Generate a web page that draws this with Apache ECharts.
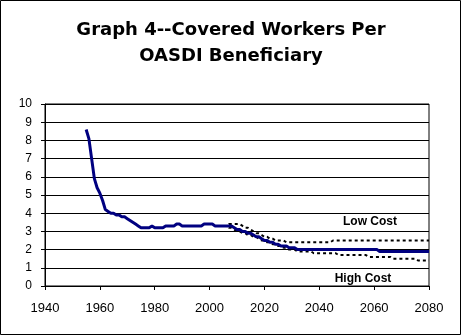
<!DOCTYPE html>
<html>
<head>
<meta charset="utf-8">
<script src="https://cdn.jsdelivr.net/npm/echarts@6/dist/echarts.min.js"></script>
<style>
html,body{margin:0;padding:0;background:#fff;}
#chart{width:462px;height:336px;}
</style>
</head>
<body>
<div id="chart"></div>
<script>
// ---- Data ----
var titleText = "Graph 4--Covered Workers Per\nOASDI Beneficiary";
var xTicks = [1940, 1960, 1980, 2000, 2020, 2040, 2060, 2080];
var yTicks = [0, 1, 2, 3, 4, 5, 6, 7, 8, 9, 10];

// Historical + intermediate projection
var mainYears = [1955,1956,1957,1958,1959,1960,1961,1962,1963,1964,1965,1966,1967,1968,1969,1970,
  1971,1972,1973,1974,1975,1976,1977,1978,1979,1980,1981,1982,1983,1984,1985,1986,1987,1988,1989,1990,
  1991,1992,1993,1994,1995,1996,1997,1998,1999,2000,2001,2002,2003,2004,2005,2006,2007,2008,2009,2010,
  2011,2012,2013,2014,2015,2016,2017,2018,2019,2020,2021,2022,2023,2024,2025,2026,2027,2028,2029,2030,
  2031,2032,2040,2050,2061,2062,2070,2080];
var mainValues = [8.6,8.1,7.0,5.9,5.4,5.1,4.7,4.2,4.1,4.0,4.0,3.9,3.9,3.8,3.8,3.7,
  3.6,3.5,3.4,3.3,3.2,3.2,3.2,3.2,3.3,3.2,3.2,3.2,3.2,3.3,3.3,3.3,3.3,3.4,3.4,3.3,
  3.3,3.3,3.3,3.3,3.3,3.3,3.3,3.4,3.4,3.4,3.4,3.3,3.3,3.3,3.3,3.3,3.3,3.3,3.2,3.1,
  3.1,3.0,3.0,2.9,2.9,2.8,2.7,2.7,2.6,2.5,2.5,2.4,2.4,2.3,2.3,2.2,2.2,2.2,2.1,2.1,
  2.1,2.0,2.0,2.0,2.0,1.9,1.9,1.9];

var lowYears = [2005,2006,2007,2008,2009,2010,2011,2012,2013,2014,2015,2016,2017,2018,2019,2020,
  2021,2022,2023,2024,2025,2026,2027,2028,2044,2045,2080];
var lowValues = [3.3,3.3,3.4,3.4,3.4,3.4,3.4,3.3,3.2,3.2,3.1,3.0,2.9,2.9,2.8,2.7,
  2.7,2.6,2.6,2.5,2.5,2.5,2.5,2.4,2.4,2.5,2.5];

var highYears = [2005,2006,2007,2008,2009,2010,2011,2012,2013,2014,2015,2016,2017,2018,2019,2020,
  2021,2022,2023,2024,2025,2026,2027,2028,2029,2031,2032,2037,2038,2046,2047,2057,2058,2066,2067,2075,2076,2080];
var highValues = [3.3,3.3,3.2,3.2,3.1,3.0,3.0,2.9,2.9,2.8,2.8,2.7,2.7,2.6,2.5,2.5,
  2.4,2.4,2.3,2.3,2.2,2.2,2.1,2.1,2.0,2.0,1.9,1.9,1.8,1.8,1.7,1.7,1.6,1.6,1.5,1.5,1.4,1.4];

var lowLabel = "Low Cost";
var highLabel = "High Cost";

function pairs(xs, ys){ var out=[]; for(var i=0;i<xs.length;i++){ out.push([xs[i], ys[i]]); } return out; }

var FONT = "Arial, 'Liberation Sans', sans-serif";
var TFONT = "'DejaVu Sans', Arial, sans-serif";
var chart = echarts.init(document.getElementById('chart'), null, {renderer:'canvas'});
var option = {
  backgroundColor: '#ffffff',
  animation: false,
  title: {
    text: titleText,
    left: 'center',
    top: 17,
    padding: 0,
    textStyle: {fontFamily: TFONT, fontSize: 18, fontWeight: 'bold', color: '#000', lineHeight: 26}
  },
  grid: {left: 45, right: 33, top: 104, height: 182, show: true, borderColor: '#000', borderWidth: 1, containLabel: false},
  xAxis: {
    type: 'value', min: 1940, max: 2080, interval: 20,
    axisLine: {show: true, lineStyle: {color: '#000', width: 1}},
    axisTick: {show: true, inside: false, length: 4, lineStyle: {color: '#000'}},
    splitLine: {show: false},
    axisLabel: {margin: 16, fontFamily: FONT, fontSize: 13, color: '#000',
      formatter: function(v){ return xTicks.indexOf(v) >= 0 ? String(v) : ''; }}
  },
  yAxis: {
    type: 'value', min: 0, max: 10, interval: 1,
    axisLine: {show: true, lineStyle: {color: '#000', width: 1}},
    axisTick: {show: true, inside: false, length: 4, lineStyle: {color: '#000'}},
    splitLine: {show: true, lineStyle: {color: '#000', width: 1}},
    axisLabel: {margin: 13, fontFamily: FONT, fontSize: 12, color: '#000',
      formatter: function(v){ return yTicks.indexOf(v) >= 0 ? String(v) : ''; }}
  },
  series: [
    {type: 'line', name: lowLabel, data: pairs(lowYears, lowValues), symbol: 'none',
      lineStyle: {color: '#000', width: 2, type: [3, 3]}, z: 2},
    {type: 'line', name: highLabel, data: pairs(highYears, highValues), symbol: 'none',
      lineStyle: {color: '#000', width: 2, type: [3, 3]}, z: 2},
    {type: 'line', name: 'Intermediate', data: pairs(mainYears, mainValues), symbol: 'none',
      lineStyle: {color: '#000080', width: 3}, z: 3}
  ],
  graphic: [
    {type: 'rect', shape: {x: 0.5, y: 0.5, width: 460, height: 334}, style: {fill: 'none', stroke: '#000', lineWidth: 1}, silent: true},
    {type: 'text', x: 370, y: 222, style: {text: lowLabel, fontFamily: FONT, fontSize: 12, fontWeight: 'bold', fill: '#000', textAlign: 'center', textVerticalAlign: 'middle'}},
    {type: 'text', x: 363, y: 279, style: {text: highLabel, fontFamily: FONT, fontSize: 12, fontWeight: 'bold', fill: '#000', textAlign: 'center', textVerticalAlign: 'middle'}}
  ]
};
chart.setOption(option);
</script>
</body>
</html>
